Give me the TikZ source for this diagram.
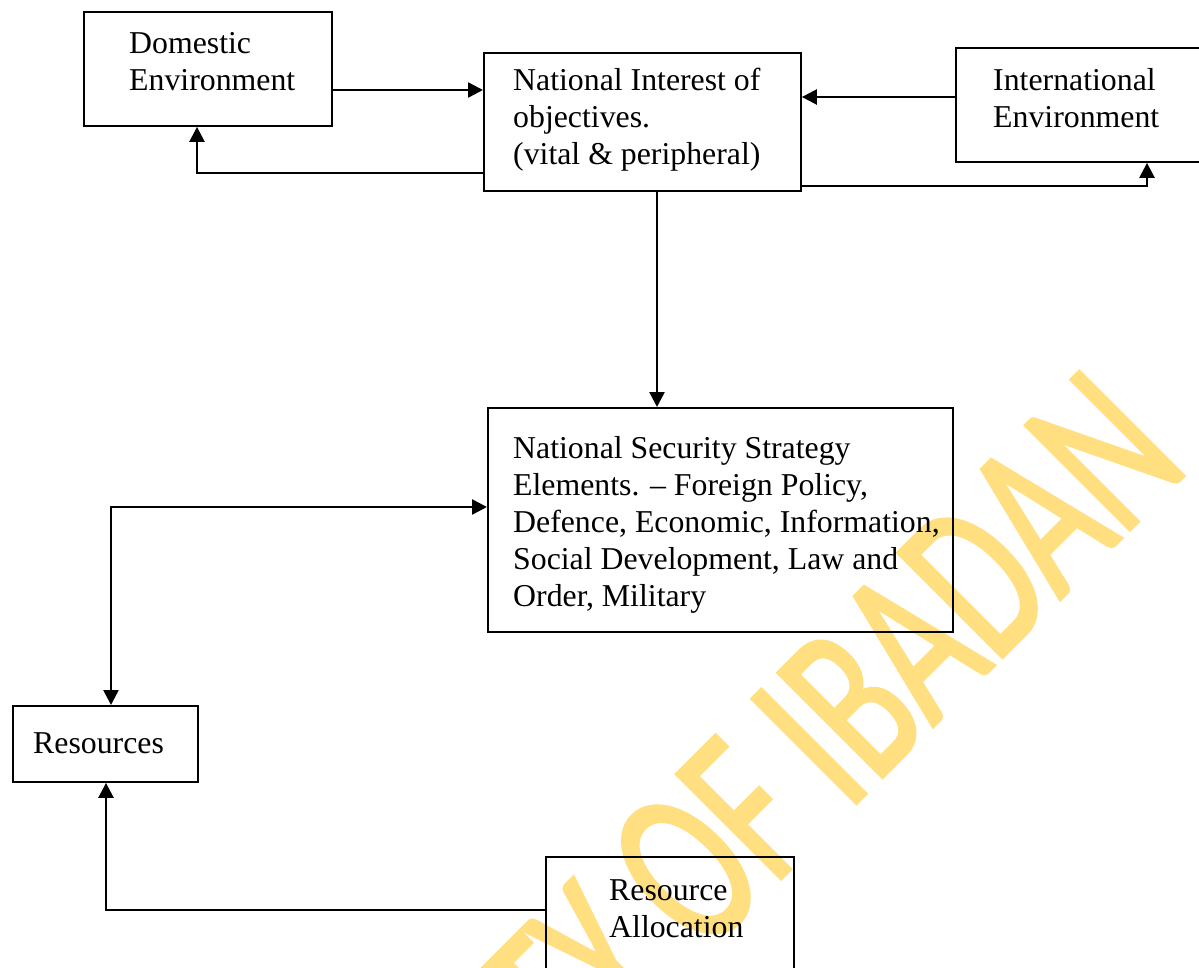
\documentclass[tikz,border=0pt]{standalone}
\usepackage{fontspec}
\setmainfont{Liberation Serif}
\newfontfamily\wmfont[FakeStretch=0.66, FakeBold=1.3]{Carlito}
\usetikzlibrary{arrows.meta}
\definecolor{wmyellow}{RGB}{255,223,128}
\newcommand\mlines[1]{\begin{tabular}[t]{@{}l@{}}#1\end{tabular}}
\begin{document}
\begin{tikzpicture}[x=1pt, y=-1pt,
  box/.style={draw, line width=1.9pt, inner sep=0pt, anchor=north west},
  lbl/.style={inner sep=0pt, anchor=base west, font=\fontsize{31.8}{37}\selectfont},
  tip/.tip={Triangle[length=15pt,width=15pt]},
  arr/.style={line width=2.5pt, -tip},
  darr/.style={line width=2.5pt, tip-tip},
  wm/.style={rotate=45, anchor=base east, inner sep=0pt, text=wmyellow, font=\wmfont\fontsize{231}{231}\selectfont}]
\useasboundingbox (0,0) rectangle (1199,968);
\fill[white] (0,0) rectangle (1199,968);
% watermark
\node[wm] (wmark) at (1192,468) {UNIVERSITY OF IBADAN};
% boxes
\node[box, minimum width=248pt, minimum height=114pt] (dom) at (83,11) {};
\node[box, minimum width=317pt, minimum height=138pt] (nat) at (483,52) {};
\node[box, minimum width=250pt, minimum height=114pt] (intl) at (955,47) {};
\node[box, minimum width=465pt, minimum height=224pt] (nss) at (487,407) {};
\node[box, minimum width=185pt, minimum height=76pt] (res) at (12,705) {};
\node[box, minimum width=248pt, minimum height=130pt] (ra) at (545,856) {};
% labels
\node[lbl] (domT) at (129,54) {\mlines{Domestic\\Environment}};
\node[lbl] (natT) at (513,91) {\mlines{National Interest of\\objectives.\\(vital \& peripheral)}};
\node[lbl] (intlT) at (993,91) {\mlines{International\\Environment}};
\node[lbl] (nssT) at (513,458) {\mlines{National Security Strategy\\Elements. -- Foreign Policy,\\Defence, Economic, Information,\\Social Development, Law and\\Order, Military}};
\node[lbl] (resT) at (33,753) {Resources};
\node[lbl] (raT) at (609,900) {\mlines{Resource\\Allocation}};
% connectors
\draw[arr] (dom.east |- 0,90) -- (nat.west |- 0,90);
\draw[arr] (nat.west |- 0,173) -| (dom.south -| 197,0);
\draw[arr] (intl.west |- 0,97) -- (nat.east |- 0,97);
\draw[arr] (nat.east |- 0,186) -| (intl.south -| 1147,0);
\draw[arr] (nat.south -| 657,0) -- (nss.north -| 657,0);
\draw[darr] (res.north -| 111,0) |- (nss.west |- 0,507);
\draw[arr] (ra.west |- 0,910) -| (res.south -| 106,0);
\end{tikzpicture}
\end{document}
